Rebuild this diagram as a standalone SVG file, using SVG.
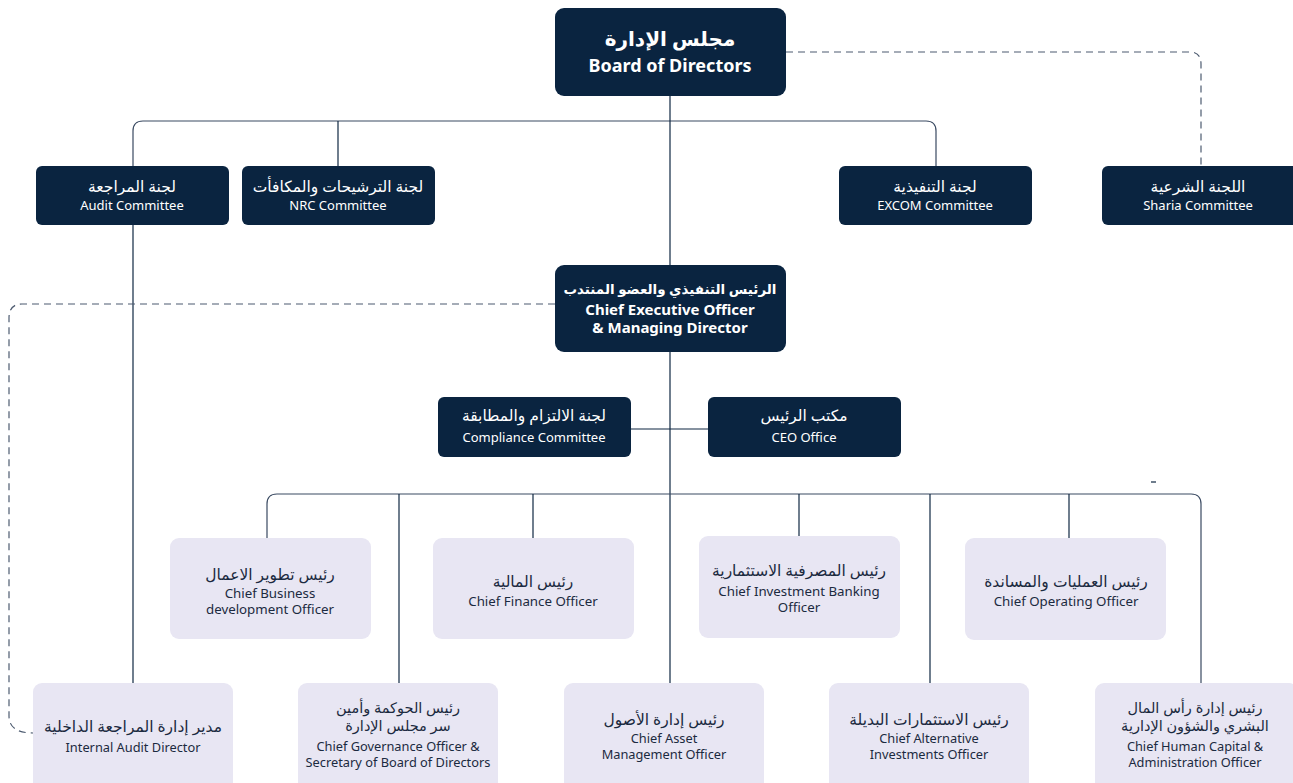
<svg xmlns="http://www.w3.org/2000/svg" width="1293" height="783" viewBox="0 0 1293 783">
<style>
.dark{fill:#0a2440}
.light{fill:#e8e6f3}
.ln{fill:none;stroke:#0f2742;stroke-width:1.2}
.bus{fill:none;stroke:#3a4a62;stroke-width:1.2}
.dash{fill:none;stroke:#4d5b70;stroke-width:1.2;stroke-dasharray:7 5}
text{font-family:"Noto Sans","DejaVu Sans",sans-serif;text-anchor:middle}
.wt{fill:#ffffff}
.dt{fill:#1b2a40}
.ar14{font-size:15.5px}
.en12{font-size:13px}
.ar15{font-size:15.5px}
.ar2{font-size:14.5px}
.en13{font-size:13.3px}
.en13b{font-size:12.8px}
</style>
<rect width="1293" height="783" fill="#ffffff"/>
<g id="connectors">
  <path class="bus" d="M133 166 V131 Q133 121 143 121 H926 Q936 121 936 131 V166"/>
  <path class="ln" d="M338 121 V166"/>
  <path class="ln" d="M670 96 V265"/>
  <path class="ln" d="M133 225 V683"/>
  <path class="dash" d="M786 52 H1190 Q1201 52 1201 64 V166"/>
  <path class="dash" d="M555 304 H22 Q9 304 9 318 V716 Q9 733 33 733"/>
  <path class="ln" d="M670 352 V683"/>
  <path class="ln" d="M631 429 H708"/>
  <path class="bus" d="M267 538 V504 Q267 494 277 494 H1191 Q1201 494 1201 504 V683"/>
  <path class="ln" d="M399 494 V683"/>
  <path class="ln" d="M533 494 V538"/>
  <path class="ln" d="M799 494 V536"/>
  <path class="ln" d="M930 494 V683"/>
  <path class="ln" d="M1069 494 V538"/>
  <path class="ln" d="M1151 482 H1156"/>
</g>
<g id="board">
  <rect class="dark" x="555" y="8" width="231" height="88" rx="9"/>
  <text class="wt" x="670" y="46" font-size="20" font-weight="bold">مجلس الإدارة</text>
  <text class="wt" x="670" y="72" font-size="18" font-weight="bold">Board of Directors</text>
</g>
<g id="audit-committee">
  <rect class="dark" x="36" y="166" width="193" height="59" rx="6"/>
  <text class="wt ar14" x="132" y="192">لجنة المراجعة</text>
  <text class="wt en12" x="132" y="210">Audit Committee</text>
</g>
<g id="nrc-committee">
  <rect class="dark" x="242" y="166" width="193" height="59" rx="6"/>
  <text class="wt ar14" x="338" y="192">لجنة الترشيحات والمكافأت</text>
  <text class="wt en12" x="338" y="210">NRC Committee</text>
</g>
<g id="excom-committee">
  <rect class="dark" x="839" y="166" width="193" height="59" rx="6"/>
  <text class="wt ar14" x="935" y="192">لجنة التنفيذية</text>
  <text class="wt en12" x="935" y="210">EXCOM Committee</text>
</g>
<g id="sharia-committee">
  <rect class="dark" x="1102" y="166" width="196" height="59" rx="6"/>
  <text class="wt ar14" x="1198" y="192">اللجنة الشرعية</text>
  <text class="wt en12" x="1198" y="210">Sharia Committee</text>
</g>
<g id="ceo">
  <rect class="dark" x="555" y="265" width="231" height="87" rx="9"/>
  <text class="wt" x="670" y="294" font-size="13.5" font-weight="bold">الرئيس التنفيذي والعضو المنتدب</text>
  <text class="wt" x="670" y="315" font-size="15" font-weight="bold">Chief Executive Officer</text>
  <text class="wt" x="670" y="333" font-size="15" font-weight="bold">&amp; Managing Director</text>
</g>
<g id="compliance-committee">
  <rect class="dark" x="438" y="397" width="193" height="60" rx="6"/>
  <text class="wt ar14" x="534" y="421">لجنة الالتزام والمطابقة</text>
  <text class="wt en12" x="534" y="442">Compliance Committee</text>
</g>
<g id="ceo-office">
  <rect class="dark" x="708" y="397" width="193" height="60" rx="6"/>
  <text class="wt ar14" x="804" y="421">مكتب الرئيس</text>
  <text class="wt en12" x="804" y="442">CEO Office</text>
</g>
<g id="business-development">
  <rect class="light" x="170" y="538" width="201" height="101" rx="9"/>
  <text class="dt ar15" x="270" y="580">رئيس تطوير الاعمال</text>
  <text class="dt en13" x="270" y="598">Chief Business</text>
  <text class="dt en13" x="270" y="614">development Officer</text>
</g>
<g id="cfo">
  <rect class="light" x="433" y="538" width="201" height="101" rx="9"/>
  <text class="dt ar15" x="533" y="587">رئيس المالية</text>
  <text class="dt en13" x="533" y="606">Chief Finance Officer</text>
</g>
<g id="investment-banking">
  <rect class="light" x="699" y="536" width="201" height="102" rx="9"/>
  <text class="dt ar15" x="799" y="576">رئيس المصرفية الاستثمارية</text>
  <text class="dt en13" x="799" y="596">Chief Investment Banking</text>
  <text class="dt en13" x="799" y="612">Officer</text>
</g>
<g id="coo">
  <rect class="light" x="965" y="538" width="201" height="102" rx="9"/>
  <text class="dt ar15" x="1066" y="587">رئيس العمليات والمساندة</text>
  <text class="dt en13" x="1066" y="606">Chief Operating Officer</text>
</g>
<g id="internal-audit">
  <rect class="light" x="33" y="683" width="200" height="110" rx="9"/>
  <text class="dt ar15" x="133" y="732">مدير إدارة المراجعة الداخلية</text>
  <text class="dt en13b" x="133" y="752">Internal Audit Director</text>
</g>
<g id="governance">
  <rect class="light" x="298" y="683" width="200" height="110" rx="9"/>
  <text class="dt ar2" x="398" y="713">رئيس الحوكمة وأمين</text>
  <text class="dt ar2" x="398" y="731">سر مجلس الإدارة</text>
  <text class="dt en13b" x="398" y="751">Chief  Governance Officer &amp;</text>
  <text class="dt en13b" x="398" y="767">Secretary of Board of Directors</text>
</g>
<g id="asset-management">
  <rect class="light" x="564" y="683" width="200" height="110" rx="9"/>
  <text class="dt ar15" x="664" y="725">رئيس إدارة الأصول</text>
  <text class="dt en13b" x="664" y="743">Chief  Asset</text>
  <text class="dt en13b" x="664" y="759">Management Officer</text>
</g>
<g id="alternative-investments">
  <rect class="light" x="829" y="683" width="200" height="110" rx="9"/>
  <text class="dt ar15" x="929" y="725">رئيس الاستثمارات البديلة</text>
  <text class="dt en13b" x="929" y="743">Chief  Alternative</text>
  <text class="dt en13b" x="929" y="759">Investments Officer</text>
</g>
<g id="human-capital">
  <rect class="light" x="1095" y="683" width="203" height="110" rx="9"/>
  <text class="dt ar2" x="1195" y="713">رئيس إدارة رأس المال</text>
  <text class="dt ar2" x="1195" y="731">البشري والشؤون الإدارية</text>
  <text class="dt en13b" x="1195" y="751">Chief  Human Capital &amp;</text>
  <text class="dt en13b" x="1195" y="767">Administration  Officer</text>
</g>
</svg>
